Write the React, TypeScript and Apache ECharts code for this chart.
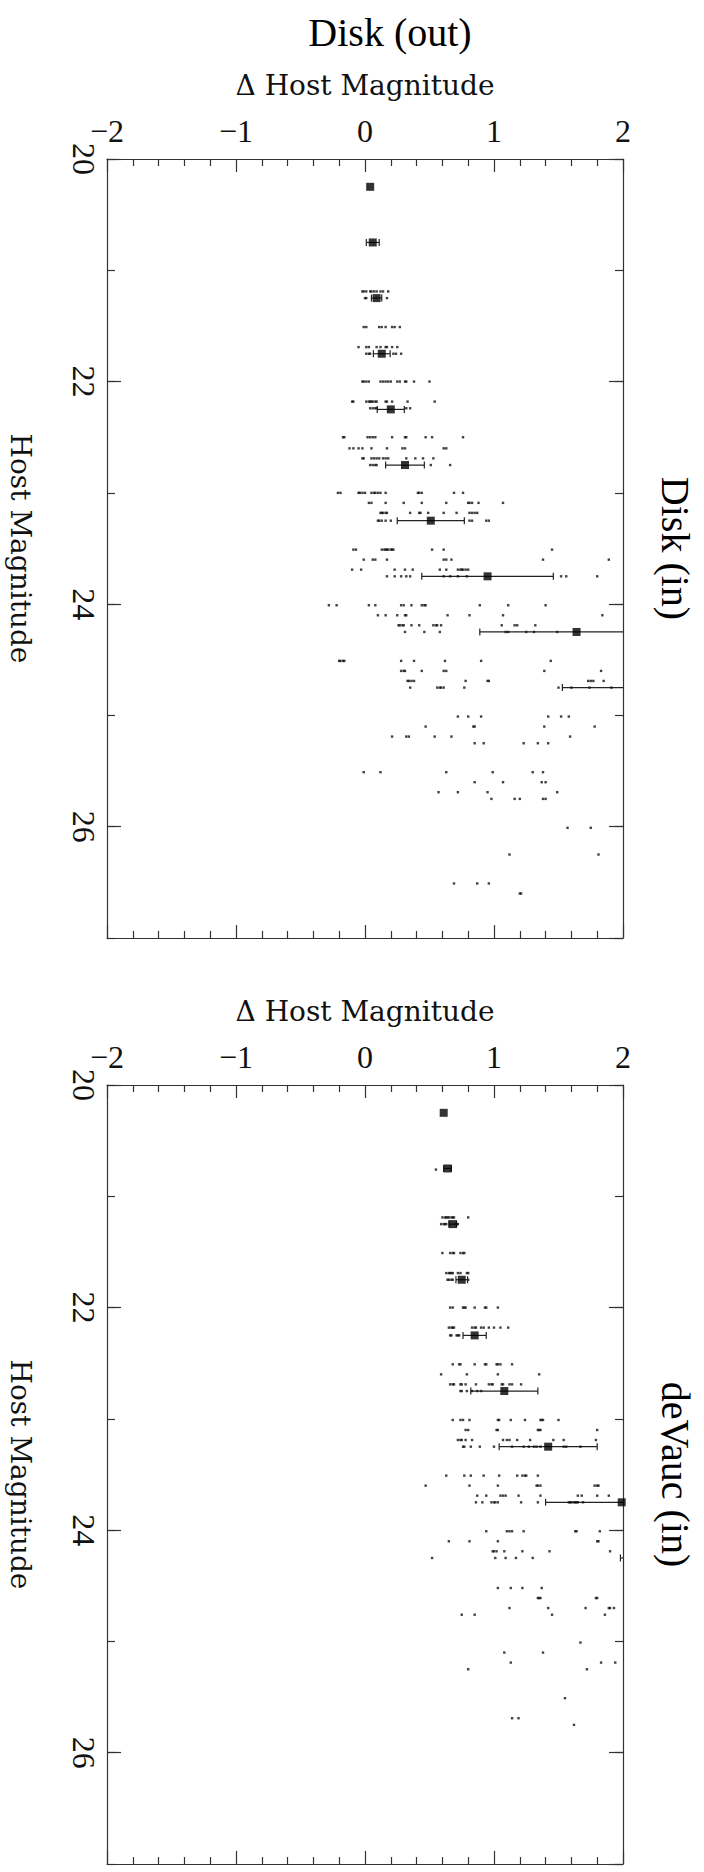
import React, { useEffect, useRef } from "react";
import * as echarts from "echarts";

// ---------------- data ----------------
const X_TICKS = [-2, -1, 0, 1, 2];
const Y_TICKS = [20, 22, 24, 26];

// Binned means (big squares) with horizontal error bars
const DISK_BIN_MAG = [20.25, 20.75, 21.25, 21.75, 22.25, 22.75, 23.25, 23.75, 24.25, 24.75];
const DISK_MEAN = [0.04, 0.06, 0.09, 0.13, 0.2, 0.31, 0.51, 0.95, 1.64, 2.3];
const DISK_ERR = [0, 0.05, 0.04, 0.065, 0.105, 0.15, 0.26, 0.51, 0.75, 0.77];

const DEV_BIN_MAG = [20.25, 20.75, 21.25, 21.75, 22.25, 22.75, 23.25, 23.75, 24.25];
const DEV_MEAN = [0.61, 0.64, 0.68, 0.75, 0.85, 1.08, 1.42, 1.99, 2.6];
const DEV_ERR = [0, 0.03, 0.03, 0.045, 0.09, 0.26, 0.38, 0.59, 0.62];

// Individual objects: [host magnitude, delta magnitudes...]
const DISK_DOTS: Array<[number, number[]]> = [
  [21.19, [-0.02, -0.01, 0.01, 0.04, 0.05, 0.07, 0.09, 0.12, 0.14, 0.18]],
  [21.25, [0.0, 0.01, 0.17]],
  [21.51, [-0.01, 0.01, 0.11, 0.13, 0.16, 0.21, 0.23, 0.27]],
  [21.69, [-0.05, 0.01, 0.03, 0.09, 0.12, 0.16, 0.17, 0.21, 0.25]],
  [21.75, [0.01, 0.03, 0.04, 0.22, 0.24, 0.28]],
  [22.0, [-0.02, -0.01, 0.01, 0.03, 0.12, 0.14, 0.16, 0.18, 0.2, 0.25, 0.27, 0.31, 0.32, 0.38, 0.5]],
  [22.18, [-0.1, -0.09, 0.01, 0.03, 0.04, 0.05, 0.06, 0.08, 0.09, 0.16, 0.17, 0.21, 0.33, 0.54]],
  [22.24, [0.04, 0.06, 0.08, 0.09, 0.32, 0.35]],
  [22.5, [-0.17, -0.16, 0.02, 0.04, 0.06, 0.08, 0.21, 0.31, 0.32, 0.47, 0.52, 0.76]],
  [22.6, [-0.12, -0.09, -0.05, -0.02, 0.05, 0.17, 0.29, 0.31, 0.61, 0.63]],
  [22.69, [-0.02, -0.01, 0.05, 0.07, 0.09, 0.11, 0.14, 0.16, 0.18, 0.32, 0.39, 0.45, 0.53]],
  [22.75, [0.04, 0.06, 0.08, 0.09, 0.51, 0.66]],
  [23.0, [-0.21, -0.19, -0.05, -0.04, -0.02, 0.0, 0.05, 0.07, 0.08, 0.1, 0.12, 0.16, 0.41, 0.42, 0.44, 0.69, 0.76]],
  [23.09, [0.03, 0.05, 0.16, 0.3, 0.44, 0.63, 0.8, 0.81, 0.83, 0.88, 1.07]],
  [23.18, [0.12, 0.13, 0.14, 0.16, 0.17, 0.35, 0.42, 0.43, 0.49, 0.61, 0.71, 0.81, 0.83, 0.85, 0.87]],
  [23.25, [0.1, 0.11, 0.13, 0.16, 0.2, 0.81, 0.83, 0.94, 0.96]],
  [23.51, [-0.09, -0.07, 0.13, 0.15, 0.16, 0.17, 0.18, 0.2, 0.21, 0.22, 0.52, 0.61, 1.45]],
  [23.6, [-0.01, 0.06, 0.08, 0.17, 0.61, 0.63, 0.67, 1.38, 1.89]],
  [23.69, [-0.1, -0.03, 0.23, 0.31, 0.37, 0.58, 0.63, 0.72, 0.74, 0.75, 0.76, 0.78, 0.8]],
  [23.75, [0.17, 0.23, 0.28, 0.32, 0.35, 0.61, 0.66, 0.72, 0.79, 1.52, 1.56, 1.8]],
  [24.01, [-0.28, -0.22, 0.03, 0.08, 0.28, 0.3, 0.36, 0.44, 0.46, 0.47, 0.89, 1.11, 1.4]],
  [24.1, [0.1, 0.16, 0.25, 0.31, 0.32, 0.64, 0.81, 1.07, 1.84]],
  [24.19, [0.26, 0.27, 0.29, 0.3, 0.36, 0.42, 0.53, 0.55, 0.56, 0.59, 1.06, 1.16, 1.18, 1.32]],
  [24.25, [0.31, 0.46, 0.58, 1.09, 1.11, 1.25, 1.31, 1.49]],
  [24.51, [-0.2, -0.19, -0.17, -0.16, 0.28, 0.38, 0.62, 0.9, 1.44]],
  [24.6, [0.28, 0.3, 0.31, 0.44, 0.61, 0.63, 1.39, 1.83]],
  [24.69, [0.33, 0.34, 0.36, 0.38, 0.78, 0.95, 0.96, 1.73, 1.75, 1.77, 1.85]],
  [24.75, [0.35, 0.56, 0.58, 0.59, 0.61, 0.77, 1.5, 1.6, 1.74, 1.91]],
  [25.01, [0.72, 0.8, 0.9, 1.42, 1.52, 1.58]],
  [25.1, [0.47, 0.84, 0.85, 1.39, 1.78]],
  [25.19, [0.21, 0.32, 0.34, 0.54, 0.67, 1.59]],
  [25.25, [0.85, 0.92, 1.23, 1.34, 1.42]],
  [25.51, [-0.01, 0.12, 0.63, 0.99, 1.3, 1.38]],
  [25.6, [0.85, 1.07, 1.37, 1.4]],
  [25.69, [0.57, 0.72, 0.95, 1.49]],
  [25.75, [0.98, 1.16, 1.2, 1.38, 1.4]],
  [26.01, [1.57, 1.75]],
  [26.25, [1.12, 1.81]],
  [26.51, [0.69, 0.87, 0.96]],
  [26.6, [1.2, 1.21]],
];

const DEV_DOTS: Array<[number, number[]]> = [
  [20.76, [0.55]],
  [21.19, [0.6, 0.62, 0.63, 0.64, 0.65, 0.67, 0.68, 0.69, 0.8]],
  [21.25, [0.59, 0.61, 0.62, 0.63, 0.71, 0.72]],
  [21.51, [0.6, 0.66, 0.68, 0.69, 0.74, 0.76, 0.77]],
  [21.69, [0.63, 0.65, 0.66, 0.67, 0.68, 0.72, 0.74, 0.79, 0.8]],
  [21.75, [0.64, 0.65, 0.67, 0.68, 0.8]],
  [22.0, [0.66, 0.68, 0.76, 0.77, 0.78, 0.85, 0.93, 0.94, 1.03]],
  [22.18, [0.65, 0.67, 0.68, 0.69, 0.83, 0.85, 0.86, 0.9, 0.92, 0.96, 1.0, 1.05, 1.11]],
  [22.25, [0.66, 0.67, 0.71, 0.72, 0.73]],
  [22.51, [0.68, 0.73, 0.74, 0.85, 0.93, 0.94, 1.02, 1.03, 1.05, 1.14]],
  [22.6, [0.59, 0.79, 1.03, 1.35]],
  [22.69, [0.66, 0.68, 0.69, 0.74, 0.75, 0.78, 0.86, 0.96, 0.98, 0.99, 1.06, 1.07, 1.12, 1.14, 1.21]],
  [22.75, [0.74, 0.75, 0.79, 0.83, 0.87, 0.9]],
  [23.01, [0.68, 0.74, 0.76, 0.81, 1.03, 1.04, 1.13, 1.24, 1.36, 1.37, 1.38, 1.5]],
  [23.1, [0.78, 0.8, 1.02, 1.03, 1.34, 1.35, 1.36, 1.8]],
  [23.19, [0.72, 0.74, 0.75, 0.78, 0.83, 1.07, 1.1, 1.12, 1.18, 1.28, 1.46, 1.54, 1.79]],
  [23.25, [0.76, 0.77, 0.82, 0.89, 1.0, 1.14, 1.23, 1.27, 1.31, 1.33, 1.36, 1.54, 1.56, 1.67]],
  [23.51, [0.63, 0.77, 0.82, 0.92, 1.04, 1.18, 1.22, 1.24, 1.25, 1.34]],
  [23.6, [0.47, 0.81, 1.03, 1.33, 1.34, 1.36, 1.78, 1.8, 1.81]],
  [23.69, [0.87, 0.94, 1.05, 1.07, 1.09, 1.19, 1.36, 1.65, 1.68, 1.8, 1.89]],
  [23.75, [0.86, 0.91, 0.98, 1.0, 1.01, 1.03, 1.21, 1.34, 1.58, 1.59, 1.6, 1.62, 1.63, 1.64, 1.65, 1.69]],
  [24.01, [0.94, 1.1, 1.12, 1.14, 1.23, 1.63, 1.64, 1.82]],
  [24.1, [0.65, 0.81, 1.03, 1.8, 1.81]],
  [24.19, [0.99, 1.0, 1.02, 1.08, 1.22, 1.43, 1.9]],
  [24.25, [0.52, 1.01, 1.09, 1.17, 1.3]],
  [24.52, [1.03, 1.13, 1.22, 1.37]],
  [24.61, [1.34, 1.35, 1.36, 1.79, 1.8]],
  [24.7, [1.12, 1.42, 1.71, 1.89, 1.9, 1.93]],
  [24.76, [0.75, 0.85, 1.45, 1.86]],
  [25.01, [1.67]],
  [25.1, [1.08, 1.38]],
  [25.19, [1.13, 1.83, 1.94]],
  [25.25, [0.8, 1.72]],
  [25.51, [1.55]],
  [25.69, [1.14, 1.19]],
  [25.75, [1.62]],
];

const PANELS = [
  { top: 159, side: "Disk (in)", mag: DISK_BIN_MAG, mean: DISK_MEAN, err: DISK_ERR, dots: DISK_DOTS },
  { top: 1085, side: "deVauc (in)", mag: DEV_BIN_MAG, mean: DEV_MEAN, err: DEV_ERR, dots: DEV_DOTS },
];

// ---------------- layout / style ----------------
const GRID_LEFT = 107;
const GRID_W = 516;
const GRID_H = 779;
const LINE = "#333";
const TICK_FONT = "Liberation Serif";
const LABEL_FONT = "DejaVu Serif";

export default function App() {
  const ref = useRef<HTMLDivElement>(null);

  useEffect(() => {
    if (!ref.current) return;
    const chart = echarts.init(ref.current, null, { renderer: "svg" });

    const grid: any[] = [];
    const xAxis: any[] = [];
    const yAxis: any[] = [];
    const series: any[] = [];
    const graphic: any[] = [];

    const xLabelFmt = (v: number) => (X_TICKS.includes(v) ? (v < 0 ? "\u2212" + Math.abs(v) : String(v)) : "");
    const yLabelFmt = (v: number) => (Y_TICKS.includes(v) ? String(v) : "");

    const lineStyle = { color: LINE, width: 1.2 };

    PANELS.forEach((p, i) => {
      grid.push({ left: GRID_LEFT, top: p.top, width: GRID_W, height: GRID_H });
      const xBase = {
        gridIndex: i,
        type: "value",
        min: -2,
        max: 2,
        interval: 1,
        splitLine: { show: false },
        axisLine: { show: true, onZero: false, lineStyle },
        axisTick: { show: true, inside: true, length: 13, lineStyle },
        minorTick: { show: true, splitNumber: 5, length: 7, lineStyle },
      };
      xAxis.push({
        ...xBase,
        position: "top",
        axisLabel: {
          show: true,
          margin: 12,
          fontSize: 32,
          fontFamily: TICK_FONT,
          color: "#111",
          formatter: xLabelFmt,
        },
      });
      xAxis.push({ ...xBase, position: "bottom", axisLabel: { show: false } });

      const yBase = {
        gridIndex: i,
        type: "value",
        min: 20,
        max: 27,
        inverse: true,
        splitLine: { show: false },
      };
      // left major
      yAxis.push({
        ...yBase,
        position: "left",
        interval: 2,
        axisLine: { show: true, onZero: false, lineStyle },
        axisTick: { show: true, inside: true, length: 14, lineStyle },
        axisLabel: {
          show: true,
          rotate: -90,
          margin: 7,
          fontSize: 32,
          fontFamily: TICK_FONT,
          color: "#111",
          showMaxLabel: false,
          formatter: yLabelFmt,
        },
      });
      // left minor
      yAxis.push({
        ...yBase,
        position: "left",
        interval: 1,
        axisLine: { show: false, onZero: false },
        axisTick: { show: true, inside: true, length: 8, lineStyle },
        axisLabel: { show: false },
      });
      // right major
      yAxis.push({
        ...yBase,
        position: "right",
        interval: 2,
        axisLine: { show: true, onZero: false, lineStyle },
        axisTick: { show: true, inside: true, length: 14, lineStyle },
        axisLabel: { show: false },
      });
      // right minor
      yAxis.push({
        ...yBase,
        position: "right",
        interval: 1,
        axisLine: { show: false, onZero: false },
        axisTick: { show: true, inside: true, length: 8, lineStyle },
        axisLabel: { show: false },
      });

      const xi = i * 2;
      const yi = i * 4;

      const dotData: number[][] = [];
      p.dots.forEach(([mag, xs]) => xs.forEach((x) => dotData.push([x, mag])));
      series.push({
        type: "scatter",
        xAxisIndex: xi,
        yAxisIndex: yi,
        symbol: "rect",
        symbolSize: [2.4, 2.4],
        itemStyle: { color: "#111" },
        data: dotData,
        silent: true,
      });

      const errData = p.mag
        .map((m, k) => [p.mean[k] - p.err[k], p.mean[k] + p.err[k], m])
        .filter((d, k) => p.err[k] > 0);
      series.push({
        type: "custom",
        xAxisIndex: xi,
        yAxisIndex: yi,
        encode: { x: [0, 1], y: 2 },
        data: errData,
        silent: true,
        renderItem: (params: any, api: any) => {
          const lo = api.value(0);
          const hi = api.value(1);
          const y = api.value(2);
          const p1 = api.coord([lo, y]);
          const p2 = api.coord([hi, y]);
          const cs = params.coordSys;
          const xmin = cs.x;
          const xmax = cs.x + cs.width;
          const a = Math.max(p1[0], xmin);
          const b = Math.min(p2[0], xmax);
          const st = { stroke: "#222", lineWidth: 1.2 };
          const children: any[] = [
            { type: "line", shape: { x1: a, y1: p1[1], x2: b, y2: p1[1] }, style: st },
          ];
          if (p1[0] >= xmin)
            children.push({ type: "line", shape: { x1: p1[0], y1: p1[1] - 3.5, x2: p1[0], y2: p1[1] + 3.5 }, style: st });
          if (p2[0] <= xmax)
            children.push({ type: "line", shape: { x1: p2[0], y1: p2[1] - 3.5, x2: p2[0], y2: p2[1] + 3.5 }, style: st });
          return { type: "group", children };
        },
      });

      series.push({
        type: "scatter",
        xAxisIndex: xi,
        yAxisIndex: yi,
        symbol: "rect",
        symbolSize: 8,
        itemStyle: { color: "#000" },
        clip: true,
        data: p.mag.map((m, k) => [p.mean[k], m]),
        silent: true,
      });

      const cy = p.top + GRID_H / 2;
      graphic.push({
        type: "text",
        x: 365,
        y: p.top - 74,
        style: {
          text: "\u0394 Host Magnitude",
          font: `28px "${LABEL_FONT}"`,
          fill: "#111",
          textAlign: "center",
          textVerticalAlign: "middle",
          align: "center",
          verticalAlign: "middle",
        },
      });
      graphic.push({
        type: "text",
        x: 20,
        y: cy,
        rotation: -Math.PI / 2,
        style: {
          text: "Host Magnitude",
          font: `28px "${LABEL_FONT}"`,
          fill: "#111",
          textAlign: "center",
          textVerticalAlign: "middle",
          align: "center",
          verticalAlign: "middle",
        },
      });
      graphic.push({
        type: "text",
        x: 675,
        y: cy,
        rotation: -Math.PI / 2,
        style: {
          text: p.side,
          font: `40px "Liberation Serif"`,
          fill: "#000",
          textAlign: "center",
          textVerticalAlign: "middle",
          align: "center",
          verticalAlign: "middle",
        },
      });
    });

    graphic.push({
      type: "text",
      x: 390,
      y: 32,
      style: {
        text: "Disk (out)",
        font: `40px "Liberation Serif"`,
        fill: "#000",
        textAlign: "center",
        textVerticalAlign: "middle",
        align: "center",
        verticalAlign: "middle",
      },
    });

    chart.setOption({
      animation: false,
      backgroundColor: "#fff",
      grid,
      xAxis,
      yAxis,
      series,
      graphic,
    });

    return () => chart.dispose();
  }, []);

  return (
    <div
      ref={ref}
      style={{ position: "absolute", left: 0, top: 0, width: 704, height: 1872, background: "#fff" }}
    />
  );
}
